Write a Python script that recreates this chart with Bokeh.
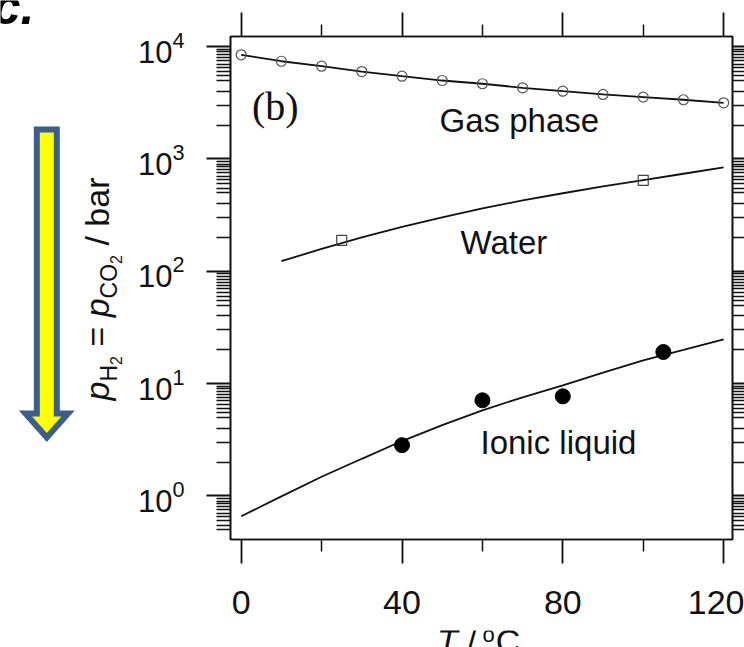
import math
from bokeh.plotting import figure
from bokeh.layouts import column, row
from bokeh.core.properties import value
from bokeh.models import (Range1d, LinearAxis, LogAxis, FixedTicker, Label, LogTickFormatter)
from bokeh.embed import file_html
from bokeh.resources import INLINE

# ---------------- data ----------------
gas_T = [0, 10, 20, 30, 40, 50, 60, 70, 80, 90, 100, 110, 120]
gas_p = [8450, 7410, 6690, 6000, 5450, 4990, 4670, 4300, 4010, 3750, 3550, 3365, 3160]

water_line_T = [10, 20, 30, 40, 50, 60, 70, 80, 90, 100, 110, 120]
water_line_p = [123, 158, 200, 248, 302, 363, 427, 495, 569, 649, 738, 841]
water_T = [25, 100]
water_p = [188, 645]

il_line_T = [0, 10, 20, 30, 40, 50, 60, 70, 80, 90, 100, 110, 120]
il_line_p = [0.66, 0.99, 1.48, 2.14, 3.08, 4.27, 5.78, 7.55, 9.66, 12.5, 16.1, 19.95, 24.8]
il_T = [40, 60, 80, 105]
il_p = [2.83, 7.1, 7.7, 19.1]

x_major_ticks = [0, 40, 80, 120]
x_minor_ticks = [20, 60, 100]
y_major_ticks = [1, 10, 100, 1000, 10000]
y_minor_factors = [2, 3, 4, 5, 5.5, 6, 6.5, 7, 7.5, 8, 8.5, 9, 9.5]

# ---------------- geometry (page pixels) ----------------
PAGE_W, PAGE_H = 744, 647
LEFT_W = 124                 # strip with arrow, panel letter and y title
TOP_H = 630                  # height of the row holding the plot
FL, FR, FT, FB = 230, 732, 36, 539          # frame edges
XMIN, XMAX = -2.66, 122.2
YLOG_BOT, YLOG_TOP = -0.388, 4.090
YMIN, YMAX = 10 ** YLOG_BOT, 10 ** YLOG_TOP
BASE_K = 0.35                # anchor-to-baseline distance, in em

FONT = "Liberation Sans"
INK = "#111111"


def px2x(px):
    return XMIN + (px - FL) / (FR - FL) * (XMAX - XMIN)


def py2y(py):
    return 10 ** (YLOG_TOP - (py - FT) / (FB - FT) * (YLOG_TOP - YLOG_BOT))


def strip_figure(w, h, xr, yr):
    f = figure(width=w, height=h, x_range=xr, y_range=yr,
               x_axis_location=None, y_axis_location=None, min_border=0,
               min_border_left=0, min_border_right=0, min_border_top=0, min_border_bottom=0,
               output_backend="svg", toolbar_location=None)
    f.frame_align = False
    f.grid.visible = False
    f.outline_line_color = None
    f.background_fill_color = "white"
    f.border_fill_color = "white"
    return f


# ---------------- main plot ----------------
p = figure(width=PAGE_W - LEFT_W, height=TOP_H,
           x_range=Range1d(XMIN, XMAX), y_range=Range1d(YMIN, YMAX),
           y_axis_type="log", x_axis_location=None, y_axis_location=None,
           output_backend="svg", toolbar_location=None,
           min_border_left=FL - LEFT_W, min_border_right=PAGE_W - FR,
           min_border_top=FT, min_border_bottom=TOP_H - FB)
p.frame_align = False
p.grid.visible = False
p.outline_line_color = INK
p.outline_line_width = 1.6
p.background_fill_color = "white"
p.border_fill_color = "white"

y_minor_ticks = [f * 10 ** k for k in range(-1, 5) for f in y_minor_factors
                 if YMIN <= f * 10 ** k <= YMAX]
xt = FixedTicker(ticks=x_major_ticks, minor_ticks=x_minor_ticks)
yt = FixedTicker(ticks=y_major_ticks, minor_ticks=y_minor_ticks)


def style_axis(ax, labels, tick_major, tick_minor, standoff, fsize):
    ax.major_tick_in = 0
    ax.minor_tick_in = 0
    ax.major_tick_out = tick_major
    ax.minor_tick_out = tick_minor
    ax.axis_line_color = INK
    ax.axis_line_width = 1.6
    ax.major_tick_line_color = INK
    ax.major_tick_line_width = 1.8
    ax.minor_tick_line_color = INK
    ax.minor_tick_line_width = 1.5
    if labels:
        ax.major_label_standoff = standoff
        ax.major_label_text_font = FONT
        ax.major_label_text_font_size = fsize
        ax.major_label_text_color = INK
    else:
        ax.major_label_standoff = 0
        ax.major_label_text_font_size = "0px"
        ax.major_label_text_alpha = 0


bottom = LinearAxis(ticker=xt)
style_axis(bottom, True, 24, 12, 27, "34px")
top = LinearAxis(ticker=xt)
style_axis(top, False, 24, 12, 0, "0px")
left = LogAxis(ticker=yt, formatter=LogTickFormatter())
style_axis(left, True, 24, 14, 22, "31px")
right = LogAxis(ticker=yt)
style_axis(right, False, 12, 12, 0, "0px")
p.add_layout(bottom, "below")
p.add_layout(top, "above")
p.add_layout(left, "left")
p.add_layout(right, "right")

p.line(gas_T, gas_p, line_color=INK, line_width=1.8)
p.scatter(gas_T, gas_p, marker="circle", size=10, fill_alpha=0,
          line_color="#555555", line_width=1.2)

p.line(water_line_T, water_line_p, line_color=INK, line_width=1.8)
p.scatter(water_T, water_p, marker="square", size=10, fill_alpha=0,
          line_color="#444444", line_width=1.2)

p.line(il_line_T, il_line_p, line_color=INK, line_width=1.8)
p.scatter(il_T, il_p, marker="circle", size=15, fill_color="black", line_color="black")

p.add_layout(Label(x=px2x(251.5), y=py2y(120 - BASE_K * 40), text="(b)",
                   text_font="Liberation Serif", text_font_size="40px", text_color=INK,
                   text_baseline="alphabetic"))
for txt, px, py in [("Gas phase", 439, 131.7), ("Water", 460, 254), ("Ionic liquid", 480, 453.3)]:
    p.add_layout(Label(x=px2x(px), y=py2y(py - BASE_K * 33), text=txt, text_font=FONT,
                       text_font_size="33px", text_color=INK, text_baseline="alphabetic"))

# ---------------- left strip: panel letter, arrow, y title ----------------
lf = strip_figure(LEFT_W, TOP_H, Range1d(0, LEFT_W), Range1d(TOP_H, 0))

arrow_px = [36.3, 56.3, 56.3, 67.6, 46.3, 25.0, 36.3]
arrow_py = [129, 129, 413, 413, 437, 413, 413]
lf.patch(arrow_px, arrow_py, fill_color="#FFFF00", line_color="#3B5E8E",
         line_width=6, line_join="miter")

lf.text(x=[34], y=[24 - BASE_K * 50], text=["c."], text_font=value(FONT),
        text_font_size=value("50px"), text_font_style=value("bold italic"),
        text_color="black", text_align=value("right"), text_baseline=value("alphabetic"))

EM = {"p": .556, "H": .722, "2": .556, " ": .278, "=": .584, "C": .722, "O": .778,
      "/": .278, "b": .556, "a": .556, "r": .333}
pieces = [("p", 34, "italic", 0), ("H", 23, "normal", 9), ("2", 16, "normal", 13),
          (" ", 34, "normal", 0), ("=", 34, "normal", 0), (" ", 34, "normal", 0),
          ("p", 34, "italic", 0), ("CO", 23, "normal", 9), ("2", 16, "normal", 13),
          (" ", 34, "normal", 0), ("/", 34, "normal", 0), (" ", 34, "normal", 0),
          ("bar", 34, "normal", 0)]
cur = 400.0
BASE_X = 108
for txt, fs, st, off in pieces:
    if txt.strip():
        lf.text(x=[BASE_X + off - BASE_K * fs], y=[cur], text=[txt], angle=math.pi / 2,
                text_font=value(FONT), text_font_size=value(f"{fs}px"),
                text_font_style=value(st), text_color=INK,
                text_align=value("left"), text_baseline=value("alphabetic"))
    cur -= sum(EM[c] for c in txt) * fs

# ---------------- bottom strip: x title  T / °C ----------------
bf = strip_figure(PAGE_W, PAGE_H - TOP_H, Range1d(0, PAGE_W), Range1d(PAGE_H, TOP_H))
for txt, px, py, fs, st in [("T", 436.5, 652.6, 34, "italic"), ("/", 466.5, 652.6, 34, "normal"),
                            ("o", 482, 642, 22, "normal"), ("C", 495.3, 652.6, 34, "normal")]:
    bf.text(x=[px], y=[py - BASE_K * fs], text=[txt], text_font=value(FONT),
            text_font_size=value(f"{fs}px"), text_font_style=value(st), text_color=INK,
            text_align=value("left"), text_baseline=value("alphabetic"))

layout = column(row(lf, p), bf)
open("out.html", "w").write(file_html(layout, INLINE))
